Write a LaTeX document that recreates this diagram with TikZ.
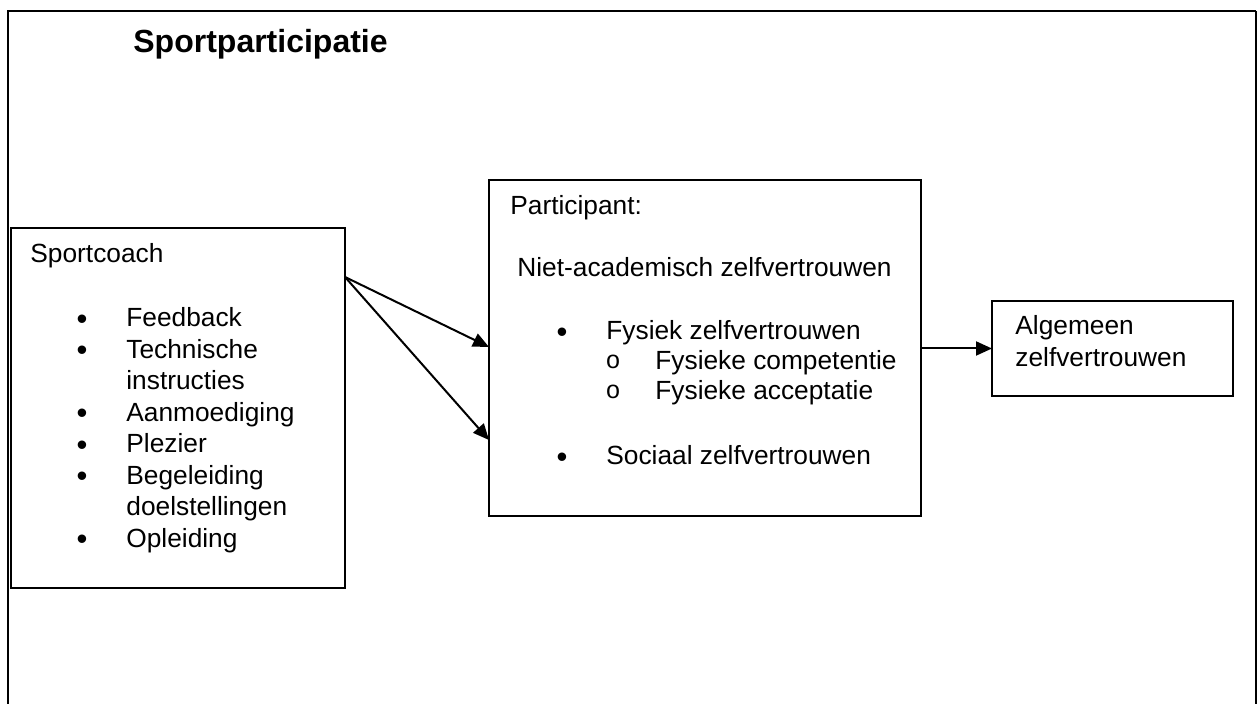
\documentclass[tikz,border=0pt]{standalone}
\usepackage{fontspec}
\setmainfont{Liberation Sans}
\setmonofont{Liberation Mono}
\usetikzlibrary{arrows.meta}

\begin{document}
\begin{tikzpicture}[
  x=0.5pt, y=-0.5pt,
  >={Triangle[length=8pt,width=7pt]},
  frame/.style={line width=1pt},
  box/.style={draw, line width=1pt, anchor=north west, inner sep=0pt, outer sep=0pt},
  txt/.style={anchor=base west, inner sep=0pt, font=\fontsize{13.15}{15.75}\selectfont},
  dot/.style={anchor=base, inner sep=0pt, yshift=-1.2pt, font=\fontsize{15.5}{15.75}\selectfont},
  ring/.style={anchor=base, inner sep=0pt, font=\ttfamily\fontsize{12.5}{13}\selectfont},
  link/.style={->, line width=1pt}
]
  \useasboundingbox (0,0) rectangle (1258,704);
  % outer frame, bottom edge runs off the page
  \draw[frame] (8,720) -- (8,11) -- (1256,11);
  \draw[line width=0.6pt] (1256,11) -- (1256,720);
  \node[txt, font=\bfseries\fontsize{16}{19}\selectfont] (title) at (133,53) {Sportparticipatie};

  % boxes
  \node[box, minimum width=167pt, minimum height=180pt] (coach) at (11,228) {};
  \node[box, minimum width=216pt, minimum height=168pt] (part) at (489,180) {};
  \node[box, minimum width=120.5pt, minimum height=47.5pt] (alg) at (992,301) {};

  % Sportcoach
  \node[txt] (coachhead) at (30,263) {Sportcoach};
  \foreach \n/\y/\txt/\bul in {1/327/Feedback/1, 2/358.5/Technische/1,
      3/390/instructies/0, 4/421.5/Aanmoediging/1, 5/453/Plezier/1,
      6/484.5/Begeleiding/1, 7/516/doelstellingen/0, 8/547.5/Opleiding/1} {
    \node[txt] (coach\n) at (126,\y) {\txt};
    \ifnum\bul=1 \node[dot] (coachdot\n) at (82,\y) {\textbullet}; \fi
  }

  % Participant
  \node[txt] (parthead) at (510,215) {Participant:};
  \node[txt] (partsub) at (517,277) {Niet-academisch zelfvertrouwen};
  \node[dot] (dotfys) at (562,340) {\textbullet};
  \node[txt] (fys) at (606,340) {Fysiek zelfvertrouwen};
  \node[ring] (dotcomp) at (613,369) {o};
  \node[txt] (comp) at (655,370) {Fysieke competentie};
  \node[ring] (dotacc) at (613,399) {o};
  \node[txt] (acc) at (655,400) {Fysieke acceptatie};
  \node[dot] (dotsoc) at (562,465) {\textbullet};
  \node[txt] (soc) at (606,465) {Sociaal zelfvertrouwen};

  % Algemeen
  \node[txt] (alg1) at (1015,335) {Algemeen};
  \node[txt] (alg2) at (1015,367) {zelfvertrouwen};

  % connectors
  \coordinate (split) at (coach.east |- 0,277);
  \draw[link] (split) -- (part.west |- 0,347);
  \draw[link] (split) -- (part.west |- 0,440);
  \draw[link] (part.east |- alg.west) -- (alg.west);
\end{tikzpicture}
\end{document}
